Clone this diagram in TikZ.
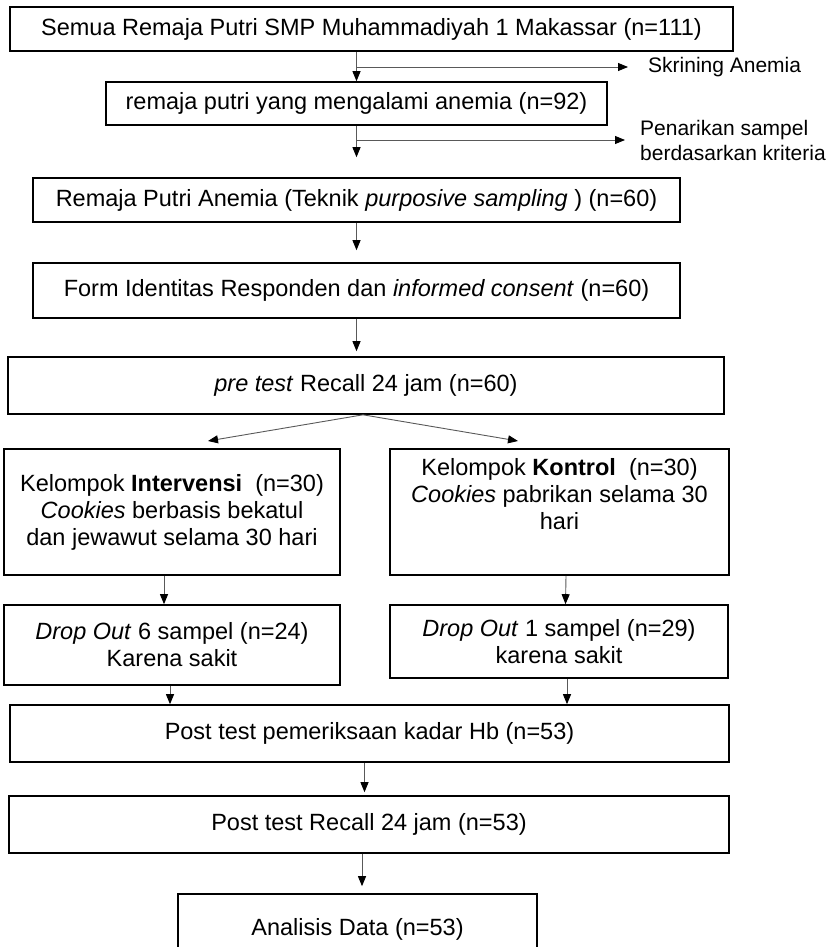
\documentclass[tikz,border=0pt]{standalone}
\usepackage{fontspec}
\setmainfont{Liberation Sans}
\usetikzlibrary{arrows.meta}

\begin{document}
\begin{tikzpicture}[x=1pt,y=-1pt,>={Triangle[length=10pt,width=8pt,color=black]},
  font={\fontsize{23.5}{27}\selectfont},
  box/.style={draw,line width=1.6pt,inner sep=0pt,align=center},
  side/.style={anchor=west,inner sep=0pt,align=left,font={\fontsize{21}{25}\selectfont}},
  flow/.style={->,line width=0.9pt,black!65}]
\useasboundingbox (0,0) rectangle (833,947);
\clip (0,0) rectangle (833,947);
% screening and sampling
\node[box,minimum width=723,minimum height=44] (semua) at (371.5,29) {Semua Remaja Putri SMP Muhammadiyah 1 Makassar (n=111)};
\node[box,minimum width=501,minimum height=43] (anemia) at (356.5,103.5) {remaja putri yang mengalami anemia (n=92)};
\node[box,minimum width=647,minimum height=44] (purposive) at (356.5,200) {Remaja Putri Anemia (Teknik \textit{purposive sampling} ) (n=60)};
\node[box,minimum width=647,minimum height=55] (form) at (356.5,290.5) {Form Identitas Responden dan \textit{informed consent} (n=60)};
\node[box,minimum width=716,minimum height=57] (pretest) at (366,385.5) {\textit{pre test} Recall 24 jam (n=60)};
\node[side] (skrining) at (648,67) {Skrining Anemia};
\node[side] (penarikan) at (640,140) {Penarikan sampel\\ berdasarkan kriteria};

% two groups
\node[box,minimum width=336,minimum height=126] (intervensi) at (172,512) {Kelompok \textbf{Intervensi}\ \ (n=30)\\ \textit{Cookies} berbasis bekatul\\ dan jewawut selama 30 hari};
\node[box,minimum width=339,minimum height=126] (kontrol) at (559.5,512) {Kelompok \textbf{Kontrol}\ \ (n=30)\\ \textit{Cookies} pabrikan selama 30\\ hari\\ \strut};
\node[box,minimum width=336,minimum height=80] (dropi) at (172,645) {\textit{Drop Out} 6 sampel (n=24)\\ Karena sakit};
\node[box,minimum width=338,minimum height=73] (dropk) at (559,641.5) {\textit{Drop Out} 1 sampel (n=29)\\ karena sakit};

% post tests
\node[box,minimum width=719,minimum height=57] (hb) at (369.5,733.5) {Post test pemeriksaan kadar Hb (n=53)};
\node[box,minimum width=720,minimum height=57] (recall) at (369,824.5) {Post test Recall 24 jam (n=53)};
\node[box,minimum width=359,minimum height=70] (analisis) at (357.5,929) {Analisis Data (n=53)};

% connectors
\draw[flow] (anemia.north |- semua.south) -- (anemia.north);
\draw[flow] (anemia.north |- skrining.west) -- ([xshift=-20pt]skrining.west);
\draw[flow,shorten >=20pt] (anemia.south) -- (anemia.south |- purposive.north);
\draw[flow] (anemia.south |- penarikan.west) -- ([xshift=-15pt]penarikan.west);
\draw[flow,shorten >=12pt] (purposive.south) -- (form.north);
\draw[flow,shorten >=5pt] (form.south) -- (form.south |- pretest.north);

\coordinate (split) at ([xshift=-3pt]pretest.south);
\coordinate (tipi) at (208,441);
\coordinate (tipk) at (518,441);
\draw[flow] (split) -- (tipi);
\draw[flow] (split) -- (tipk);

\draw[flow] ([xshift=-8pt]intervensi.south) -- ([xshift=-8pt]dropi.north);
\draw[flow] ([xshift=6.5pt]kontrol.south) -- ([xshift=6.5pt]dropk.north);
\draw[flow] ([xshift=-2pt]dropi.south) -- ([xshift=-2pt]dropi.south |- hb.north);
\draw[flow] ([xshift=8pt]dropk.south) -- ([xshift=8pt]dropk.south |- hb.north);
\draw[flow,shorten >=3pt] ([xshift=-5pt]hb.south) -- ([xshift=-5pt]hb.south |- recall.north);
\draw[flow,shorten >=7pt] ([xshift=-7pt]recall.south) -- ([xshift=-7pt]recall.south |- analisis.north);
\end{tikzpicture}
\end{document}
